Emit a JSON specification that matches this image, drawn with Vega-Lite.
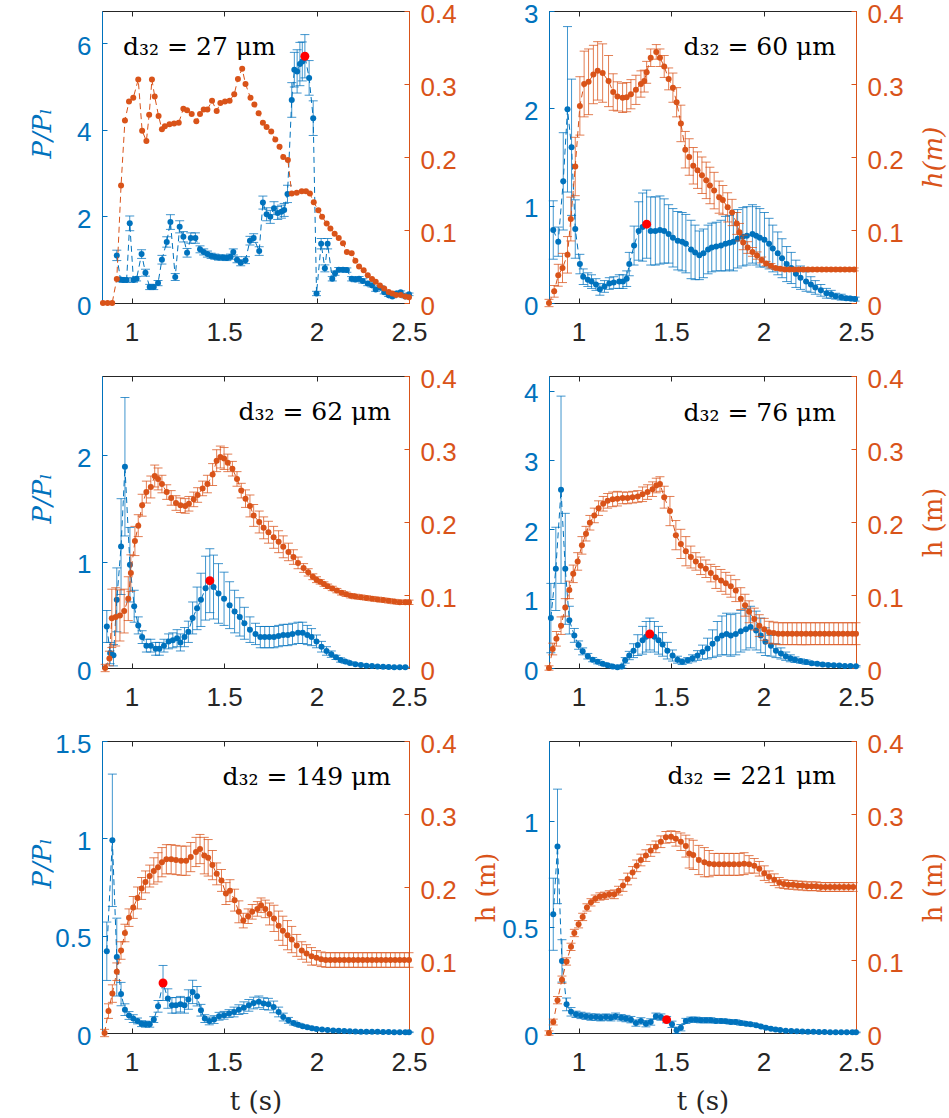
{
"$schema":"https://vega.github.io/schema/vega-lite/v6.json",
"background":"white",
"padding":{"left":28,"top":0,"right":0,"bottom":0},
"config":{
 "view":{"stroke":"#262626","strokeWidth":1},
 "axis":{"grid":false,"labelFont":"Liberation Sans","labelFontSize":26,"tickSize":-5,"tickWidth":1,"domainWidth":1,"labelPadding":16,"labelFlush":false,"labelOverlap":false,"titleFont":"DejaVu Serif","titleFontSize":26,"titleFontWeight":"normal"},
 "axisX":{"domainColor":"#262626","tickColor":"#262626","labelColor":"#262626","titleColor":"#262626","labelPadding":21},
 "axisLeft":{"domainColor":"#0072BD","tickColor":"#0072BD","labelColor":"#0072BD","titleColor":"#0072BD","labelOffset":3},
 "axisRight":{"domainColor":"#D95319","tickColor":"#D95319","labelColor":"#D95319","titleColor":"#D95319","labelOffset":3},
 "text":{"font":"DejaVu Serif","fontSize":25,"baseline":"middle","color":"#000000"}
},
"data":{"values":[
{"k":"1T","t":0.954,"v":5.91,"lab":"d₃₂ = 27 μm"},{"k":"2T","t":2.392,"v":2.63,"lab":"d₃₂ = 60 μm"},{"k":"3T","t":2.403,"v":2.4,"lab":"d₃₂ = 62 μm"},{"k":"4T","t":2.392,"v":3.68,"lab":"d₃₂ = 76 μm"},{"k":"5T","t":2.403,"v":1.315,"lab":"d₃₂ = 149 μm"},{"k":"6T","t":2.392,"v":1.21,"lab":"d₃₂ = 221 μm"},
{"k":"1h","t":0.845,"v":0},{"k":"1h","t":0.87,"v":0},{"k":"1h","t":0.895,"v":0},{"k":"1h","t":0.92,"v":0.033},{"k":"1h","t":0.943,"v":0.161},{"k":"1h","t":0.964,"v":0.25},{"k":"1h","t":0.986,"v":0.276},{"k":"1h","t":1.009,"v":0.281},{"k":"1h","t":1.036,"v":0.306},{"k":"1h","t":1.057,"v":0.236},{"k":"1h","t":1.08,"v":0.222},{"k":"1h","t":1.095,"v":0.258},{"k":"1h","t":1.11,"v":0.306},{"k":"1h","t":1.125,"v":0.283},{"k":"1h","t":1.146,"v":0.256},{"k":"1h","t":1.164,"v":0.238},{"k":"1h","t":1.18,"v":0.242},{"k":"1h","t":1.205,"v":0.245},{"k":"1h","t":1.23,"v":0.246},{"k":"1h","t":1.255,"v":0.247},{"k":"1h","t":1.28,"v":0.266},{"k":"1h","t":1.3,"v":0.264},{"k":"1h","t":1.325,"v":0.259},{"k":"1h","t":1.35,"v":0.249},{"k":"1h","t":1.37,"v":0.259},{"k":"1h","t":1.39,"v":0.265},{"k":"1h","t":1.41,"v":0.265},{"k":"1h","t":1.435,"v":0.277},{"k":"1h","t":1.46,"v":0.263},{"k":"1h","t":1.48,"v":0.274},{"k":"1h","t":1.505,"v":0.276},{"k":"1h","t":1.53,"v":0.277},{"k":"1h","t":1.555,"v":0.286},{"k":"1h","t":1.575,"v":0.307},{"k":"1h","t":1.598,"v":0.321},{"k":"1h","t":1.616,"v":0.3},{"k":"1h","t":1.643,"v":0.281},{"k":"1h","t":1.664,"v":0.272},{"k":"1h","t":1.687,"v":0.26},{"k":"1h","t":1.71,"v":0.247},{"k":"1h","t":1.73,"v":0.241},{"k":"1h","t":1.755,"v":0.235},{"k":"1h","t":1.777,"v":0.224},{"k":"1h","t":1.8,"v":0.214},{"k":"1h","t":1.82,"v":0.2},{"k":"1h","t":1.845,"v":0.196},{"k":"1h","t":1.866,"v":0.15},{"k":"1h","t":1.893,"v":0.151},{"k":"1h","t":1.92,"v":0.153},{"k":"1h","t":1.943,"v":0.153},{"k":"1h","t":1.964,"v":0.15},{"k":"1h","t":1.985,"v":0.138},{"k":"1h","t":2.01,"v":0.127},{"k":"1h","t":2.03,"v":0.118},{"k":"1h","t":2.055,"v":0.109},{"k":"1h","t":2.075,"v":0.102},{"k":"1h","t":2.098,"v":0.095},{"k":"1h","t":2.12,"v":0.089},{"k":"1h","t":2.143,"v":0.082},{"k":"1h","t":2.164,"v":0.07},{"k":"1h","t":2.19,"v":0.068},{"k":"1h","t":2.21,"v":0.058},{"k":"1h","t":2.23,"v":0.05},{"k":"1h","t":2.255,"v":0.045},{"k":"1h","t":2.277,"v":0.038},{"k":"1h","t":2.3,"v":0.033},{"k":"1h","t":2.32,"v":0.029},{"k":"1h","t":2.343,"v":0.024},{"k":"1h","t":2.366,"v":0.02},{"k":"1h","t":2.39,"v":0.015},{"k":"1h","t":2.41,"v":0.013},{"k":"1h","t":2.43,"v":0.011},{"k":"1h","t":2.455,"v":0.011},{"k":"1h","t":2.48,"v":0.009},{"k":"1h","t":2.5,"v":0.008},
{"k":"1P","t":0.92,"v":1.1,"e":0.12},{"k":"1P","t":0.94,"v":0.54,"e":0.05},{"k":"1P","t":0.955,"v":0.53,"e":0.05},{"k":"1P","t":0.973,"v":0.53,"e":0.05},{"k":"1P","t":0.99,"v":1.84,"e":0.17},{"k":"1P","t":1.01,"v":0.53,"e":0.05},{"k":"1P","t":1.027,"v":0.56,"e":0.05},{"k":"1P","t":1.054,"v":1.13,"e":0.1},{"k":"1P","t":1.075,"v":0.7,"e":0.08},{"k":"1P","t":1.098,"v":0.37,"e":0.06},{"k":"1P","t":1.12,"v":0.37,"e":0.06},{"k":"1P","t":1.143,"v":0.46,"e":0.06},{"k":"1P","t":1.164,"v":1.0,"e":0.1},{"k":"1P","t":1.19,"v":1.41,"e":0.12},{"k":"1P","t":1.21,"v":1.87,"e":0.17},{"k":"1P","t":1.236,"v":0.6,"e":0.08},{"k":"1P","t":1.26,"v":1.76,"e":0.14},{"k":"1P","t":1.28,"v":1.53,"e":0.12},{"k":"1P","t":1.3,"v":1.16,"e":0.1},{"k":"1P","t":1.32,"v":1.5,"e":0.12},{"k":"1P","t":1.345,"v":1.5,"e":0.12},{"k":"1P","t":1.37,"v":1.24,"e":0.08},{"k":"1P","t":1.39,"v":1.18,"e":0.07},{"k":"1P","t":1.41,"v":1.13,"e":0.07},{"k":"1P","t":1.43,"v":1.09,"e":0.06},{"k":"1P","t":1.45,"v":1.07,"e":0.06},{"k":"1P","t":1.47,"v":1.05,"e":0.06},{"k":"1P","t":1.495,"v":1.05,"e":0.06},{"k":"1P","t":1.515,"v":1.04,"e":0.06},{"k":"1P","t":1.535,"v":1.07,"e":0.06},{"k":"1P","t":1.55,"v":1.18,"e":0.07},{"k":"1P","t":1.57,"v":1.0,"e":0.07},{"k":"1P","t":1.59,"v":0.93,"e":0.07},{"k":"1P","t":1.616,"v":0.99,"e":0.08},{"k":"1P","t":1.64,"v":1.44,"e":0.1},{"k":"1P","t":1.66,"v":1.5,"e":0.1},{"k":"1P","t":1.69,"v":1.2,"e":0.1},{"k":"1P","t":1.71,"v":2.32,"e":0.15},{"k":"1P","t":1.73,"v":2.05,"e":0.15},{"k":"1P","t":1.75,"v":1.99,"e":0.15},{"k":"1P","t":1.77,"v":2.19,"e":0.15},{"k":"1P","t":1.79,"v":2.08,"e":0.15},{"k":"1P","t":1.81,"v":2.11,"e":0.15},{"k":"1P","t":1.825,"v":2.15,"e":0.15},{"k":"1P","t":1.843,"v":2.52,"e":0.2},{"k":"1P","t":1.866,"v":4.69,"e":0.4},{"k":"1P","t":1.88,"v":5.39,"e":0.4},{"k":"1P","t":1.895,"v":5.35,"e":0.5},{"k":"1P","t":1.91,"v":5.52,"e":0.5},{"k":"1P","t":1.923,"v":5.58,"e":0.45},{"k":"1P","t":1.937,"v":5.7,"e":0.5},{"k":"1P","t":1.96,"v":5.2,"e":0.4},{"k":"1P","t":1.982,"v":4.27,"e":0.4},{"k":"1P","t":2.0,"v":0.22,"e":0.05},{"k":"1P","t":2.025,"v":1.37,"e":0.12},{"k":"1P","t":2.045,"v":0.8,"e":0.08},{"k":"1P","t":2.06,"v":1.37,"e":0.12},{"k":"1P","t":2.085,"v":0.56,"e":0.05},{"k":"1P","t":2.1,"v":0.69,"e":0.05},{"k":"1P","t":2.12,"v":0.77,"e":0.05},{"k":"1P","t":2.143,"v":0.77,"e":0.05},{"k":"1P","t":2.164,"v":0.76,"e":0.05},{"k":"1P","t":2.19,"v":0.56,"e":0.05},{"k":"1P","t":2.21,"v":0.54,"e":0.05},{"k":"1P","t":2.23,"v":0.56,"e":0.05},{"k":"1P","t":2.25,"v":0.51,"e":0.05},{"k":"1P","t":2.277,"v":0.45,"e":0.05},{"k":"1P","t":2.3,"v":0.41,"e":0.04},{"k":"1P","t":2.32,"v":0.31,"e":0.04},{"k":"1P","t":2.343,"v":0.36,"e":0.04},{"k":"1P","t":2.366,"v":0.25,"e":0.04},{"k":"1P","t":2.39,"v":0.18,"e":0.03},{"k":"1P","t":2.41,"v":0.15,"e":0.03},{"k":"1P","t":2.43,"v":0.22,"e":0.03},{"k":"1P","t":2.455,"v":0.25,"e":0.03},{"k":"1P","t":2.48,"v":0.15,"e":0.03},{"k":"1P","t":2.5,"v":0.2,"e":0.03},
{"k":"1R","t":1.937,"v":5.7},
{"k":"2h","t":0.84,"v":0,"e":0.005},{"k":"2h","t":0.868,"v":0.016,"e":0.008},{"k":"2h","t":0.89,"v":0.038,"e":0.015},{"k":"2h","t":0.913,"v":0.048,"e":0.02},{"k":"2h","t":0.94,"v":0.066,"e":0.025},{"k":"2h","t":0.958,"v":0.115,"e":0.03},{"k":"2h","t":0.982,"v":0.187,"e":0.04},{"k":"2h","t":1.007,"v":0.27,"e":0.04},{"k":"2h","t":1.03,"v":0.3,"e":0.045},{"k":"2h","t":1.054,"v":0.303,"e":0.045},{"k":"2h","t":1.08,"v":0.313,"e":0.04},{"k":"2h","t":1.103,"v":0.318,"e":0.04},{"k":"2h","t":1.13,"v":0.315,"e":0.04},{"k":"2h","t":1.162,"v":0.304,"e":0.035},{"k":"2h","t":1.187,"v":0.289,"e":0.025},{"k":"2h","t":1.21,"v":0.283,"e":0.02},{"k":"2h","t":1.238,"v":0.281,"e":0.02},{"k":"2h","t":1.26,"v":0.282,"e":0.02},{"k":"2h","t":1.283,"v":0.286,"e":0.02},{"k":"2h","t":1.31,"v":0.292,"e":0.02},{"k":"2h","t":1.337,"v":0.3,"e":0.018},{"k":"2h","t":1.355,"v":0.304,"e":0.015},{"k":"2h","t":1.368,"v":0.316,"e":0.015},{"k":"2h","t":1.39,"v":0.336,"e":0.012},{"k":"2h","t":1.42,"v":0.344,"e":0.01},{"k":"2h","t":1.44,"v":0.336,"e":0.012},{"k":"2h","t":1.463,"v":0.324,"e":0.015},{"k":"2h","t":1.487,"v":0.307,"e":0.015},{"k":"2h","t":1.51,"v":0.295,"e":0.02},{"k":"2h","t":1.53,"v":0.275,"e":0.02},{"k":"2h","t":1.553,"v":0.246,"e":0.025},{"k":"2h","t":1.577,"v":0.21,"e":0.025},{"k":"2h","t":1.598,"v":0.2,"e":0.025},{"k":"2h","t":1.62,"v":0.188,"e":0.025},{"k":"2h","t":1.643,"v":0.182,"e":0.025},{"k":"2h","t":1.667,"v":0.175,"e":0.025},{"k":"2h","t":1.69,"v":0.168,"e":0.025},{"k":"2h","t":1.71,"v":0.161,"e":0.025},{"k":"2h","t":1.733,"v":0.154,"e":0.025},{"k":"2h","t":1.76,"v":0.145,"e":0.022},{"k":"2h","t":1.78,"v":0.141,"e":0.02},{"k":"2h","t":1.806,"v":0.131,"e":0.02},{"k":"2h","t":1.83,"v":0.124,"e":0.018},{"k":"2h","t":1.855,"v":0.109,"e":0.015},{"k":"2h","t":1.87,"v":0.097,"e":0.012},{"k":"2h","t":1.89,"v":0.083,"e":0.01},{"k":"2h","t":1.914,"v":0.076,"e":0.008},{"k":"2h","t":1.94,"v":0.07,"e":0.006},{"k":"2h","t":1.965,"v":0.065,"e":0.005},{"k":"2h","t":1.99,"v":0.059,"e":0.004},{"k":"2h","t":2.014,"v":0.054,"e":0.003},{"k":"2h","t":2.04,"v":0.051,"e":0.003},{"k":"2h","t":2.065,"v":0.048,"e":0.002},{"k":"2h","t":2.09,"v":0.047,"e":0.002},{"k":"2h","t":2.115,"v":0.046,"e":0.002},{"k":"2h","t":2.14,"v":0.046,"e":0.002},{"k":"2h","t":2.165,"v":0.046,"e":0.002},{"k":"2h","t":2.19,"v":0.046,"e":0.002},{"k":"2h","t":2.215,"v":0.046,"e":0.002},{"k":"2h","t":2.24,"v":0.046,"e":0.002},{"k":"2h","t":2.265,"v":0.046,"e":0.002},{"k":"2h","t":2.29,"v":0.046,"e":0.002},{"k":"2h","t":2.315,"v":0.046,"e":0.002},{"k":"2h","t":2.34,"v":0.046,"e":0.002},{"k":"2h","t":2.365,"v":0.046,"e":0.002},{"k":"2h","t":2.39,"v":0.046,"e":0.002},{"k":"2h","t":2.415,"v":0.046,"e":0.002},{"k":"2h","t":2.44,"v":0.046,"e":0.002},{"k":"2h","t":2.465,"v":0.046,"e":0.002},{"k":"2h","t":2.49,"v":0.046,"e":0.002},
{"k":"2P","t":0.863,"v":0.75,"e":0.3},{"k":"2P","t":0.89,"v":0.63,"e":0.15},{"k":"2P","t":0.917,"v":1.25,"e":0.5},{"k":"2P","t":0.94,"v":1.99,"e":0.85},{"k":"2P","t":0.962,"v":1.6,"e":0.7},{"k":"2P","t":0.982,"v":0.76,"e":0.3},{"k":"2P","t":1.007,"v":0.4,"e":0.1},{"k":"2P","t":1.025,"v":0.27,"e":0.08},{"k":"2P","t":1.05,"v":0.24,"e":0.07},{"k":"2P","t":1.07,"v":0.22,"e":0.07},{"k":"2P","t":1.094,"v":0.19,"e":0.06},{"k":"2P","t":1.115,"v":0.14,"e":0.06},{"k":"2P","t":1.14,"v":0.17,"e":0.06},{"k":"2P","t":1.166,"v":0.2,"e":0.06},{"k":"2P","t":1.19,"v":0.21,"e":0.06},{"k":"2P","t":1.22,"v":0.22,"e":0.07},{"k":"2P","t":1.24,"v":0.22,"e":0.07},{"k":"2P","t":1.26,"v":0.25,"e":0.08},{"k":"2P","t":1.274,"v":0.4,"e":0.12},{"k":"2P","t":1.3,"v":0.59,"e":0.2},{"k":"2P","t":1.325,"v":0.74,"e":0.3},{"k":"2P","t":1.346,"v":0.78,"e":0.35},{"k":"2P","t":1.368,"v":0.81,"e":0.35},{"k":"2P","t":1.39,"v":0.74,"e":0.35},{"k":"2P","t":1.415,"v":0.74,"e":0.35},{"k":"2P","t":1.44,"v":0.75,"e":0.35},{"k":"2P","t":1.463,"v":0.74,"e":0.33},{"k":"2P","t":1.487,"v":0.71,"e":0.3},{"k":"2P","t":1.51,"v":0.67,"e":0.3},{"k":"2P","t":1.536,"v":0.64,"e":0.3},{"k":"2P","t":1.56,"v":0.63,"e":0.3},{"k":"2P","t":1.58,"v":0.61,"e":0.3},{"k":"2P","t":1.608,"v":0.55,"e":0.3},{"k":"2P","t":1.63,"v":0.52,"e":0.28},{"k":"2P","t":1.653,"v":0.49,"e":0.25},{"k":"2P","t":1.675,"v":0.51,"e":0.25},{"k":"2P","t":1.7,"v":0.55,"e":0.25},{"k":"2P","t":1.72,"v":0.57,"e":0.25},{"k":"2P","t":1.744,"v":0.58,"e":0.25},{"k":"2P","t":1.77,"v":0.59,"e":0.26},{"k":"2P","t":1.794,"v":0.61,"e":0.28},{"k":"2P","t":1.816,"v":0.62,"e":0.28},{"k":"2P","t":1.837,"v":0.63,"e":0.3},{"k":"2P","t":1.86,"v":0.66,"e":0.3},{"k":"2P","t":1.888,"v":0.68,"e":0.3},{"k":"2P","t":1.91,"v":0.69,"e":0.3},{"k":"2P","t":1.94,"v":0.71,"e":0.3},{"k":"2P","t":1.96,"v":0.69,"e":0.3},{"k":"2P","t":1.98,"v":0.67,"e":0.3},{"k":"2P","t":2.005,"v":0.65,"e":0.28},{"k":"2P","t":2.03,"v":0.61,"e":0.26},{"k":"2P","t":2.05,"v":0.56,"e":0.24},{"k":"2P","t":2.077,"v":0.51,"e":0.22},{"k":"2P","t":2.1,"v":0.46,"e":0.2},{"k":"2P","t":2.125,"v":0.4,"e":0.18},{"k":"2P","t":2.15,"v":0.36,"e":0.16},{"k":"2P","t":2.175,"v":0.3,"e":0.14},{"k":"2P","t":2.2,"v":0.26,"e":0.12},{"k":"2P","t":2.23,"v":0.22,"e":0.1},{"k":"2P","t":2.256,"v":0.19,"e":0.08},{"k":"2P","t":2.28,"v":0.16,"e":0.07},{"k":"2P","t":2.31,"v":0.13,"e":0.06},{"k":"2P","t":2.34,"v":0.1,"e":0.05},{"k":"2P","t":2.366,"v":0.09,"e":0.04},{"k":"2P","t":2.39,"v":0.07,"e":0.03},{"k":"2P","t":2.42,"v":0.06,"e":0.03},{"k":"2P","t":2.446,"v":0.05,"e":0.02},{"k":"2P","t":2.47,"v":0.045,"e":0.02},{"k":"2P","t":2.495,"v":0.04,"e":0.02},
{"k":"2R","t":1.368,"v":0.81},
{"k":"3h","t":0.857,"v":0,"e":0.005},{"k":"3h","t":0.88,"v":0.013,"e":0.01},{"k":"3h","t":0.893,"v":0.068,"e":0.04},{"k":"3h","t":0.914,"v":0.07,"e":0.04},{"k":"3h","t":0.937,"v":0.072,"e":0.035},{"k":"3h","t":0.96,"v":0.078,"e":0.03},{"k":"3h","t":0.982,"v":0.095,"e":0.03},{"k":"3h","t":0.996,"v":0.13,"e":0.025},{"k":"3h","t":1.018,"v":0.174,"e":0.02},{"k":"3h","t":1.036,"v":0.195,"e":0.015},{"k":"3h","t":1.057,"v":0.223,"e":0.015},{"k":"3h","t":1.08,"v":0.241,"e":0.015},{"k":"3h","t":1.104,"v":0.248,"e":0.015},{"k":"3h","t":1.125,"v":0.263,"e":0.015},{"k":"3h","t":1.143,"v":0.259,"e":0.015},{"k":"3h","t":1.164,"v":0.252,"e":0.012},{"k":"3h","t":1.19,"v":0.241,"e":0.01},{"k":"3h","t":1.214,"v":0.233,"e":0.01},{"k":"3h","t":1.24,"v":0.226,"e":0.01},{"k":"3h","t":1.264,"v":0.223,"e":0.01},{"k":"3h","t":1.29,"v":0.222,"e":0.01},{"k":"3h","t":1.31,"v":0.225,"e":0.01},{"k":"3h","t":1.336,"v":0.231,"e":0.01},{"k":"3h","t":1.357,"v":0.237,"e":0.01},{"k":"3h","t":1.384,"v":0.246,"e":0.01},{"k":"3h","t":1.41,"v":0.252,"e":0.012},{"k":"3h","t":1.438,"v":0.265,"e":0.015},{"k":"3h","t":1.46,"v":0.284,"e":0.015},{"k":"3h","t":1.48,"v":0.289,"e":0.015},{"k":"3h","t":1.5,"v":0.287,"e":0.015},{"k":"3h","t":1.52,"v":0.281,"e":0.012},{"k":"3h","t":1.545,"v":0.273,"e":0.01},{"k":"3h","t":1.57,"v":0.259,"e":0.01},{"k":"3h","t":1.593,"v":0.243,"e":0.01},{"k":"3h","t":1.616,"v":0.232,"e":0.012},{"k":"3h","t":1.64,"v":0.222,"e":0.015},{"k":"3h","t":1.66,"v":0.209,"e":0.015},{"k":"3h","t":1.69,"v":0.2,"e":0.015},{"k":"3h","t":1.714,"v":0.192,"e":0.015},{"k":"3h","t":1.74,"v":0.186,"e":0.015},{"k":"3h","t":1.768,"v":0.179,"e":0.015},{"k":"3h","t":1.795,"v":0.173,"e":0.015},{"k":"3h","t":1.82,"v":0.166,"e":0.015},{"k":"3h","t":1.848,"v":0.159,"e":0.012},{"k":"3h","t":1.875,"v":0.152,"e":0.01},{"k":"3h","t":1.9,"v":0.144,"e":0.008},{"k":"3h","t":1.93,"v":0.137,"e":0.006},{"k":"3h","t":1.955,"v":0.131,"e":0.005},{"k":"3h","t":1.98,"v":0.125,"e":0.004},{"k":"3h","t":2.0,"v":0.121,"e":0.004},{"k":"3h","t":2.02,"v":0.118,"e":0.003},{"k":"3h","t":2.04,"v":0.115,"e":0.003},{"k":"3h","t":2.06,"v":0.112,"e":0.003},{"k":"3h","t":2.085,"v":0.109,"e":0.003},{"k":"3h","t":2.11,"v":0.106,"e":0.003},{"k":"3h","t":2.135,"v":0.103,"e":0.003},{"k":"3h","t":2.16,"v":0.101,"e":0.003},{"k":"3h","t":2.185,"v":0.099,"e":0.003},{"k":"3h","t":2.21,"v":0.098,"e":0.003},{"k":"3h","t":2.24,"v":0.097,"e":0.003},{"k":"3h","t":2.27,"v":0.096,"e":0.003},{"k":"3h","t":2.3,"v":0.095,"e":0.003},{"k":"3h","t":2.33,"v":0.094,"e":0.003},{"k":"3h","t":2.36,"v":0.093,"e":0.003},{"k":"3h","t":2.39,"v":0.092,"e":0.003},{"k":"3h","t":2.42,"v":0.091,"e":0.003},{"k":"3h","t":2.45,"v":0.09,"e":0.003},{"k":"3h","t":2.48,"v":0.09,"e":0.003},{"k":"3h","t":2.5,"v":0.09,"e":0.003},
{"k":"3P","t":0.866,"v":0.39,"e":0.15},{"k":"3P","t":0.884,"v":0.14,"e":0.1},{"k":"3P","t":0.902,"v":0.12,"e":0.1},{"k":"3P","t":0.92,"v":0.64,"e":0.3},{"k":"3P","t":0.943,"v":1.14,"e":0.45},{"k":"3P","t":0.964,"v":1.89,"e":0.65},{"k":"3P","t":0.991,"v":0.97,"e":0.35},{"k":"3P","t":1.014,"v":0.58,"e":0.15},{"k":"3P","t":1.036,"v":0.4,"e":0.08},{"k":"3P","t":1.057,"v":0.29,"e":0.06},{"k":"3P","t":1.08,"v":0.21,"e":0.06},{"k":"3P","t":1.104,"v":0.21,"e":0.06},{"k":"3P","t":1.13,"v":0.18,"e":0.06},{"k":"3P","t":1.15,"v":0.18,"e":0.06},{"k":"3P","t":1.175,"v":0.21,"e":0.06},{"k":"3P","t":1.2,"v":0.25,"e":0.07},{"k":"3P","t":1.223,"v":0.26,"e":0.07},{"k":"3P","t":1.246,"v":0.28,"e":0.08},{"k":"3P","t":1.264,"v":0.24,"e":0.08},{"k":"3P","t":1.286,"v":0.29,"e":0.09},{"k":"3P","t":1.307,"v":0.34,"e":0.1},{"k":"3P","t":1.33,"v":0.47,"e":0.15},{"k":"3P","t":1.354,"v":0.56,"e":0.2},{"k":"3P","t":1.375,"v":0.64,"e":0.25},{"k":"3P","t":1.4,"v":0.75,"e":0.3},{"k":"3P","t":1.423,"v":0.82,"e":0.3},{"k":"3P","t":1.443,"v":0.76,"e":0.3},{"k":"3P","t":1.47,"v":0.7,"e":0.28},{"k":"3P","t":1.5,"v":0.65,"e":0.25},{"k":"3P","t":1.53,"v":0.59,"e":0.22},{"k":"3P","t":1.557,"v":0.53,"e":0.2},{"k":"3P","t":1.585,"v":0.48,"e":0.18},{"k":"3P","t":1.61,"v":0.42,"e":0.15},{"k":"3P","t":1.64,"v":0.36,"e":0.12},{"k":"3P","t":1.67,"v":0.32,"e":0.1},{"k":"3P","t":1.696,"v":0.29,"e":0.1},{"k":"3P","t":1.72,"v":0.29,"e":0.1},{"k":"3P","t":1.745,"v":0.29,"e":0.1},{"k":"3P","t":1.77,"v":0.29,"e":0.1},{"k":"3P","t":1.795,"v":0.3,"e":0.1},{"k":"3P","t":1.82,"v":0.31,"e":0.1},{"k":"3P","t":1.845,"v":0.31,"e":0.1},{"k":"3P","t":1.87,"v":0.32,"e":0.1},{"k":"3P","t":1.9,"v":0.33,"e":0.1},{"k":"3P","t":1.925,"v":0.33,"e":0.1},{"k":"3P","t":1.95,"v":0.31,"e":0.09},{"k":"3P","t":1.973,"v":0.29,"e":0.08},{"k":"3P","t":2.0,"v":0.25,"e":0.06},{"k":"3P","t":2.027,"v":0.2,"e":0.05},{"k":"3P","t":2.054,"v":0.16,"e":0.04},{"k":"3P","t":2.08,"v":0.13,"e":0.03},{"k":"3P","t":2.105,"v":0.1,"e":0.02},{"k":"3P","t":2.13,"v":0.075,"e":0.02},{"k":"3P","t":2.155,"v":0.06,"e":0.015},{"k":"3P","t":2.18,"v":0.048,"e":0.01},{"k":"3P","t":2.21,"v":0.035,"e":0.01},{"k":"3P","t":2.24,"v":0.028,"e":0.008},{"k":"3P","t":2.27,"v":0.022,"e":0.005},{"k":"3P","t":2.3,"v":0.018,"e":0.005},{"k":"3P","t":2.33,"v":0.015,"e":0.004},{"k":"3P","t":2.36,"v":0.012,"e":0.004},{"k":"3P","t":2.39,"v":0.01,"e":0.003},{"k":"3P","t":2.42,"v":0.008,"e":0.003},{"k":"3P","t":2.45,"v":0.007,"e":0.003},{"k":"3P","t":2.48,"v":0.006,"e":0.003},
{"k":"3R","t":1.423,"v":0.82},
{"k":"4h","t":0.84,"v":0,"e":0.003},{"k":"4h","t":0.86,"v":0.026,"e":0.008},{"k":"4h","t":0.88,"v":0.04,"e":0.01},{"k":"4h","t":0.905,"v":0.058,"e":0.012},{"k":"4h","t":0.928,"v":0.083,"e":0.012},{"k":"4h","t":0.95,"v":0.107,"e":0.012},{"k":"4h","t":0.971,"v":0.129,"e":0.012},{"k":"4h","t":0.995,"v":0.146,"e":0.012},{"k":"4h","t":1.018,"v":0.168,"e":0.012},{"k":"4h","t":1.04,"v":0.184,"e":0.01},{"k":"4h","t":1.061,"v":0.199,"e":0.01},{"k":"4h","t":1.085,"v":0.209,"e":0.01},{"k":"4h","t":1.108,"v":0.219,"e":0.01},{"k":"4h","t":1.133,"v":0.225,"e":0.01},{"k":"4h","t":1.157,"v":0.229,"e":0.01},{"k":"4h","t":1.184,"v":0.231,"e":0.01},{"k":"4h","t":1.21,"v":0.232,"e":0.01},{"k":"4h","t":1.238,"v":0.233,"e":0.008},{"k":"4h","t":1.265,"v":0.233,"e":0.008},{"k":"4h","t":1.292,"v":0.234,"e":0.008},{"k":"4h","t":1.32,"v":0.235,"e":0.008},{"k":"4h","t":1.346,"v":0.238,"e":0.01},{"k":"4h","t":1.373,"v":0.241,"e":0.01},{"k":"4h","t":1.4,"v":0.245,"e":0.01},{"k":"4h","t":1.42,"v":0.25,"e":0.01},{"k":"4h","t":1.44,"v":0.252,"e":0.01},{"k":"4h","t":1.463,"v":0.234,"e":0.015},{"k":"4h","t":1.494,"v":0.215,"e":0.02},{"k":"4h","t":1.526,"v":0.182,"e":0.02},{"k":"4h","t":1.553,"v":0.17,"e":0.02},{"k":"4h","t":1.58,"v":0.16,"e":0.02},{"k":"4h","t":1.607,"v":0.152,"e":0.015},{"k":"4h","t":1.634,"v":0.146,"e":0.012},{"k":"4h","t":1.66,"v":0.14,"e":0.012},{"k":"4h","t":1.688,"v":0.136,"e":0.012},{"k":"4h","t":1.715,"v":0.13,"e":0.012},{"k":"4h","t":1.742,"v":0.124,"e":0.015},{"k":"4h","t":1.77,"v":0.12,"e":0.015},{"k":"4h","t":1.796,"v":0.116,"e":0.015},{"k":"4h","t":1.823,"v":0.112,"e":0.015},{"k":"4h","t":1.85,"v":0.106,"e":0.015},{"k":"4h","t":1.877,"v":0.095,"e":0.015},{"k":"4h","t":1.9,"v":0.086,"e":0.015},{"k":"4h","t":1.922,"v":0.077,"e":0.015},{"k":"4h","t":1.95,"v":0.067,"e":0.015},{"k":"4h","t":1.977,"v":0.058,"e":0.015},{"k":"4h","t":2.004,"v":0.053,"e":0.015},{"k":"4h","t":2.03,"v":0.049,"e":0.015},{"k":"4h","t":2.055,"v":0.048,"e":0.015},{"k":"4h","t":2.08,"v":0.047,"e":0.015},{"k":"4h","t":2.105,"v":0.047,"e":0.015},{"k":"4h","t":2.13,"v":0.047,"e":0.015},{"k":"4h","t":2.155,"v":0.047,"e":0.015},{"k":"4h","t":2.18,"v":0.047,"e":0.015},{"k":"4h","t":2.205,"v":0.047,"e":0.015},{"k":"4h","t":2.23,"v":0.047,"e":0.015},{"k":"4h","t":2.255,"v":0.047,"e":0.015},{"k":"4h","t":2.28,"v":0.047,"e":0.015},{"k":"4h","t":2.305,"v":0.047,"e":0.015},{"k":"4h","t":2.33,"v":0.047,"e":0.015},{"k":"4h","t":2.355,"v":0.047,"e":0.015},{"k":"4h","t":2.38,"v":0.047,"e":0.015},{"k":"4h","t":2.405,"v":0.047,"e":0.015},{"k":"4h","t":2.43,"v":0.047,"e":0.015},{"k":"4h","t":2.455,"v":0.047,"e":0.015},{"k":"4h","t":2.48,"v":0.047,"e":0.015},{"k":"4h","t":2.5,"v":0.047,"e":0.015},
{"k":"4P","t":0.85,"v":0.72,"e":0.5},{"k":"4P","t":0.877,"v":1.43,"e":0.6},{"k":"4P","t":0.905,"v":2.57,"e":1.35},{"k":"4P","t":0.928,"v":1.43,"e":0.8},{"k":"4P","t":0.95,"v":0.69,"e":0.2},{"k":"4P","t":0.977,"v":0.47,"e":0.1},{"k":"4P","t":1.0,"v":0.33,"e":0.06},{"k":"4P","t":1.022,"v":0.24,"e":0.05},{"k":"4P","t":1.05,"v":0.17,"e":0.04},{"k":"4P","t":1.076,"v":0.12,"e":0.03},{"k":"4P","t":1.103,"v":0.09,"e":0.03},{"k":"4P","t":1.13,"v":0.06,"e":0.02},{"k":"4P","t":1.157,"v":0.04,"e":0.02},{"k":"4P","t":1.184,"v":0.02,"e":0.02},{"k":"4P","t":1.21,"v":0.01,"e":0.02},{"k":"4P","t":1.234,"v":0.02,"e":0.02},{"k":"4P","t":1.252,"v":0.11,"e":0.04},{"k":"4P","t":1.274,"v":0.18,"e":0.06},{"k":"4P","t":1.297,"v":0.25,"e":0.1},{"k":"4P","t":1.32,"v":0.33,"e":0.15},{"k":"4P","t":1.346,"v":0.4,"e":0.2},{"k":"4P","t":1.365,"v":0.45,"e":0.22},{"k":"4P","t":1.385,"v":0.49,"e":0.23},{"k":"4P","t":1.41,"v":0.45,"e":0.22},{"k":"4P","t":1.432,"v":0.4,"e":0.2},{"k":"4P","t":1.454,"v":0.34,"e":0.17},{"k":"4P","t":1.48,"v":0.25,"e":0.12},{"k":"4P","t":1.508,"v":0.18,"e":0.08},{"k":"4P","t":1.535,"v":0.12,"e":0.05},{"k":"4P","t":1.56,"v":0.09,"e":0.04},{"k":"4P","t":1.59,"v":0.11,"e":0.04},{"k":"4P","t":1.616,"v":0.14,"e":0.05},{"k":"4P","t":1.643,"v":0.18,"e":0.07},{"k":"4P","t":1.67,"v":0.23,"e":0.1},{"k":"4P","t":1.697,"v":0.28,"e":0.15},{"k":"4P","t":1.724,"v":0.35,"e":0.2},{"k":"4P","t":1.75,"v":0.42,"e":0.25},{"k":"4P","t":1.775,"v":0.47,"e":0.28},{"k":"4P","t":1.8,"v":0.49,"e":0.3},{"k":"4P","t":1.823,"v":0.47,"e":0.3},{"k":"4P","t":1.85,"v":0.49,"e":0.3},{"k":"4P","t":1.877,"v":0.53,"e":0.3},{"k":"4P","t":1.905,"v":0.56,"e":0.3},{"k":"4P","t":1.93,"v":0.59,"e":0.3},{"k":"4P","t":1.96,"v":0.54,"e":0.28},{"k":"4P","t":1.985,"v":0.47,"e":0.25},{"k":"4P","t":2.01,"v":0.38,"e":0.2},{"k":"4P","t":2.04,"v":0.32,"e":0.15},{"k":"4P","t":2.067,"v":0.25,"e":0.1},{"k":"4P","t":2.094,"v":0.21,"e":0.08},{"k":"4P","t":2.12,"v":0.17,"e":0.06},{"k":"4P","t":2.145,"v":0.14,"e":0.05},{"k":"4P","t":2.17,"v":0.12,"e":0.04},{"k":"4P","t":2.2,"v":0.1,"e":0.03},{"k":"4P","t":2.23,"v":0.085,"e":0.03},{"k":"4P","t":2.26,"v":0.07,"e":0.02},{"k":"4P","t":2.29,"v":0.06,"e":0.02},{"k":"4P","t":2.32,"v":0.05,"e":0.02},{"k":"4P","t":2.35,"v":0.045,"e":0.015},{"k":"4P","t":2.38,"v":0.04,"e":0.015},{"k":"4P","t":2.41,"v":0.035,"e":0.01},{"k":"4P","t":2.44,"v":0.03,"e":0.01},{"k":"4P","t":2.47,"v":0.028,"e":0.01},{"k":"4P","t":2.5,"v":0.025,"e":0.01},
{"k":"4R","t":1.385,"v":0.49},
{"k":"5h","t":0.854,"v":0,"e":0.005},{"k":"5h","t":0.875,"v":0.03,"e":0.01},{"k":"5h","t":0.896,"v":0.054,"e":0.012},{"k":"5h","t":0.92,"v":0.084,"e":0.012},{"k":"5h","t":0.943,"v":0.113,"e":0.012},{"k":"5h","t":0.964,"v":0.137,"e":0.012},{"k":"5h","t":0.986,"v":0.158,"e":0.012},{"k":"5h","t":1.009,"v":0.172,"e":0.015},{"k":"5h","t":1.032,"v":0.185,"e":0.015},{"k":"5h","t":1.054,"v":0.198,"e":0.015},{"k":"5h","t":1.075,"v":0.207,"e":0.015},{"k":"5h","t":1.098,"v":0.215,"e":0.015},{"k":"5h","t":1.12,"v":0.222,"e":0.018},{"k":"5h","t":1.143,"v":0.227,"e":0.02},{"k":"5h","t":1.164,"v":0.234,"e":0.02},{"k":"5h","t":1.188,"v":0.238,"e":0.02},{"k":"5h","t":1.214,"v":0.238,"e":0.02},{"k":"5h","t":1.24,"v":0.237,"e":0.02},{"k":"5h","t":1.268,"v":0.236,"e":0.02},{"k":"5h","t":1.295,"v":0.236,"e":0.02},{"k":"5h","t":1.32,"v":0.241,"e":0.02},{"k":"5h","t":1.348,"v":0.248,"e":0.02},{"k":"5h","t":1.37,"v":0.252,"e":0.02},{"k":"5h","t":1.393,"v":0.243,"e":0.025},{"k":"5h","t":1.414,"v":0.24,"e":0.025},{"k":"5h","t":1.437,"v":0.23,"e":0.02},{"k":"5h","t":1.46,"v":0.218,"e":0.015},{"k":"5h","t":1.486,"v":0.209,"e":0.015},{"k":"5h","t":1.51,"v":0.191,"e":0.015},{"k":"5h","t":1.532,"v":0.195,"e":0.015},{"k":"5h","t":1.557,"v":0.182,"e":0.015},{"k":"5h","t":1.58,"v":0.166,"e":0.015},{"k":"5h","t":1.604,"v":0.154,"e":0.01},{"k":"5h","t":1.63,"v":0.16,"e":0.01},{"k":"5h","t":1.652,"v":0.166,"e":0.01},{"k":"5h","t":1.68,"v":0.17,"e":0.01},{"k":"5h","t":1.7,"v":0.175,"e":0.01},{"k":"5h","t":1.723,"v":0.17,"e":0.012},{"k":"5h","t":1.746,"v":0.163,"e":0.015},{"k":"5h","t":1.77,"v":0.157,"e":0.018},{"k":"5h","t":1.795,"v":0.147,"e":0.02},{"k":"5h","t":1.818,"v":0.14,"e":0.02},{"k":"5h","t":1.843,"v":0.134,"e":0.02},{"k":"5h","t":1.866,"v":0.128,"e":0.018},{"k":"5h","t":1.893,"v":0.12,"e":0.015},{"k":"5h","t":1.92,"v":0.113,"e":0.012},{"k":"5h","t":1.946,"v":0.109,"e":0.012},{"k":"5h","t":1.973,"v":0.105,"e":0.012},{"k":"5h","t":2.0,"v":0.103,"e":0.01},{"k":"5h","t":2.025,"v":0.101,"e":0.01},{"k":"5h","t":2.05,"v":0.1,"e":0.01},{"k":"5h","t":2.075,"v":0.1,"e":0.01},{"k":"5h","t":2.1,"v":0.1,"e":0.01},{"k":"5h","t":2.125,"v":0.1,"e":0.01},{"k":"5h","t":2.15,"v":0.1,"e":0.01},{"k":"5h","t":2.175,"v":0.1,"e":0.01},{"k":"5h","t":2.2,"v":0.1,"e":0.01},{"k":"5h","t":2.225,"v":0.1,"e":0.01},{"k":"5h","t":2.25,"v":0.1,"e":0.01},{"k":"5h","t":2.275,"v":0.1,"e":0.01},{"k":"5h","t":2.3,"v":0.1,"e":0.01},{"k":"5h","t":2.325,"v":0.1,"e":0.01},{"k":"5h","t":2.35,"v":0.1,"e":0.01},{"k":"5h","t":2.375,"v":0.1,"e":0.01},{"k":"5h","t":2.4,"v":0.1,"e":0.01},{"k":"5h","t":2.425,"v":0.1,"e":0.01},{"k":"5h","t":2.45,"v":0.1,"e":0.01},{"k":"5h","t":2.475,"v":0.1,"e":0.01},{"k":"5h","t":2.5,"v":0.1,"e":0.01},
{"k":"5P","t":0.866,"v":0.42,"e":0.15},{"k":"5P","t":0.896,"v":0.99,"e":0.34},{"k":"5P","t":0.92,"v":0.39,"e":0.2},{"k":"5P","t":0.943,"v":0.2,"e":0.06},{"k":"5P","t":0.964,"v":0.12,"e":0.03},{"k":"5P","t":0.986,"v":0.09,"e":0.02},{"k":"5P","t":1.009,"v":0.074,"e":0.02},{"k":"5P","t":1.032,"v":0.062,"e":0.015},{"k":"5P","t":1.054,"v":0.048,"e":0.015},{"k":"5P","t":1.075,"v":0.045,"e":0.015},{"k":"5P","t":1.098,"v":0.045,"e":0.015},{"k":"5P","t":1.12,"v":0.069,"e":0.015},{"k":"5P","t":1.143,"v":0.137,"e":0.03},{"k":"5P","t":1.17,"v":0.257,"e":0.09},{"k":"5P","t":1.196,"v":0.177,"e":0.05},{"k":"5P","t":1.218,"v":0.142,"e":0.04},{"k":"5P","t":1.24,"v":0.142,"e":0.04},{"k":"5P","t":1.264,"v":0.148,"e":0.04},{"k":"5P","t":1.286,"v":0.142,"e":0.04},{"k":"5P","t":1.307,"v":0.172,"e":0.05},{"k":"5P","t":1.33,"v":0.211,"e":0.06},{"k":"5P","t":1.354,"v":0.189,"e":0.05},{"k":"5P","t":1.375,"v":0.117,"e":0.03},{"k":"5P","t":1.396,"v":0.074,"e":0.02},{"k":"5P","t":1.42,"v":0.062,"e":0.02},{"k":"5P","t":1.446,"v":0.069,"e":0.02},{"k":"5P","t":1.473,"v":0.086,"e":0.02},{"k":"5P","t":1.5,"v":0.091,"e":0.02},{"k":"5P","t":1.527,"v":0.1,"e":0.02},{"k":"5P","t":1.554,"v":0.108,"e":0.025},{"k":"5P","t":1.58,"v":0.12,"e":0.025},{"k":"5P","t":1.607,"v":0.13,"e":0.03},{"k":"5P","t":1.634,"v":0.142,"e":0.03},{"k":"5P","t":1.66,"v":0.154,"e":0.03},{"k":"5P","t":1.688,"v":0.16,"e":0.03},{"k":"5P","t":1.714,"v":0.151,"e":0.03},{"k":"5P","t":1.74,"v":0.148,"e":0.03},{"k":"5P","t":1.768,"v":0.134,"e":0.03},{"k":"5P","t":1.795,"v":0.108,"e":0.025},{"k":"5P","t":1.82,"v":0.082,"e":0.02},{"k":"5P","t":1.848,"v":0.065,"e":0.015},{"k":"5P","t":1.875,"v":0.051,"e":0.01},{"k":"5P","t":1.9,"v":0.042,"e":0.008},{"k":"5P","t":1.925,"v":0.035,"e":0.006},{"k":"5P","t":1.95,"v":0.03,"e":0.005},{"k":"5P","t":1.975,"v":0.025,"e":0.004},{"k":"5P","t":2.0,"v":0.021,"e":0.004},{"k":"5P","t":2.03,"v":0.018,"e":0.003},{"k":"5P","t":2.06,"v":0.015,"e":0.003},{"k":"5P","t":2.09,"v":0.013,"e":0.003},{"k":"5P","t":2.12,"v":0.011,"e":0.003},{"k":"5P","t":2.15,"v":0.01,"e":0.002},{"k":"5P","t":2.18,"v":0.009,"e":0.002},{"k":"5P","t":2.21,"v":0.008,"e":0.002},{"k":"5P","t":2.24,"v":0.007,"e":0.002},{"k":"5P","t":2.27,"v":0.007,"e":0.002},{"k":"5P","t":2.3,"v":0.006,"e":0.002},{"k":"5P","t":2.33,"v":0.006,"e":0.002},{"k":"5P","t":2.36,"v":0.005,"e":0.002},{"k":"5P","t":2.39,"v":0.005,"e":0.002},{"k":"5P","t":2.42,"v":0.004,"e":0.002},{"k":"5P","t":2.45,"v":0.004,"e":0.002},{"k":"5P","t":2.48,"v":0.004,"e":0.002},{"k":"5P","t":2.5,"v":0.004,"e":0.002},
{"k":"5R","t":1.17,"v":0.257},
{"k":"6h","t":0.84,"v":0,"e":0.003},{"k":"6h","t":0.863,"v":0.015,"e":0.004},{"k":"6h","t":0.886,"v":0.045,"e":0.005},{"k":"6h","t":0.91,"v":0.073,"e":0.005},{"k":"6h","t":0.935,"v":0.098,"e":0.005},{"k":"6h","t":0.959,"v":0.118,"e":0.005},{"k":"6h","t":0.977,"v":0.137,"e":0.005},{"k":"6h","t":1.0,"v":0.149,"e":0.005},{"k":"6h","t":1.022,"v":0.159,"e":0.005},{"k":"6h","t":1.045,"v":0.172,"e":0.005},{"k":"6h","t":1.067,"v":0.179,"e":0.005},{"k":"6h","t":1.09,"v":0.184,"e":0.005},{"k":"6h","t":1.115,"v":0.187,"e":0.005},{"k":"6h","t":1.14,"v":0.188,"e":0.005},{"k":"6h","t":1.166,"v":0.19,"e":0.005},{"k":"6h","t":1.193,"v":0.19,"e":0.006},{"k":"6h","t":1.216,"v":0.195,"e":0.006},{"k":"6h","t":1.24,"v":0.202,"e":0.008},{"k":"6h","t":1.265,"v":0.211,"e":0.008},{"k":"6h","t":1.292,"v":0.22,"e":0.008},{"k":"6h","t":1.314,"v":0.229,"e":0.008},{"k":"6h","t":1.337,"v":0.237,"e":0.008},{"k":"6h","t":1.364,"v":0.243,"e":0.008},{"k":"6h","t":1.39,"v":0.25,"e":0.008},{"k":"6h","t":1.418,"v":0.255,"e":0.008},{"k":"6h","t":1.445,"v":0.262,"e":0.008},{"k":"6h","t":1.472,"v":0.268,"e":0.008},{"k":"6h","t":1.5,"v":0.269,"e":0.008},{"k":"6h","t":1.526,"v":0.266,"e":0.01},{"k":"6h","t":1.553,"v":0.262,"e":0.012},{"k":"6h","t":1.58,"v":0.256,"e":0.015},{"k":"6h","t":1.598,"v":0.246,"e":0.02},{"k":"6h","t":1.62,"v":0.244,"e":0.02},{"k":"6h","t":1.65,"v":0.237,"e":0.02},{"k":"6h","t":1.68,"v":0.234,"e":0.02},{"k":"6h","t":1.706,"v":0.232,"e":0.018},{"k":"6h","t":1.733,"v":0.231,"e":0.015},{"k":"6h","t":1.76,"v":0.231,"e":0.015},{"k":"6h","t":1.787,"v":0.231,"e":0.015},{"k":"6h","t":1.814,"v":0.231,"e":0.015},{"k":"6h","t":1.84,"v":0.231,"e":0.015},{"k":"6h","t":1.868,"v":0.231,"e":0.015},{"k":"6h","t":1.895,"v":0.232,"e":0.015},{"k":"6h","t":1.922,"v":0.231,"e":0.012},{"k":"6h","t":1.95,"v":0.229,"e":0.01},{"k":"6h","t":1.977,"v":0.225,"e":0.01},{"k":"6h","t":2.004,"v":0.219,"e":0.01},{"k":"6h","t":2.03,"v":0.214,"e":0.008},{"k":"6h","t":2.058,"v":0.21,"e":0.008},{"k":"6h","t":2.085,"v":0.206,"e":0.007},{"k":"6h","t":2.11,"v":0.204,"e":0.006},{"k":"6h","t":2.135,"v":0.203,"e":0.006},{"k":"6h","t":2.16,"v":0.203,"e":0.006},{"k":"6h","t":2.185,"v":0.202,"e":0.006},{"k":"6h","t":2.21,"v":0.202,"e":0.006},{"k":"6h","t":2.235,"v":0.201,"e":0.006},{"k":"6h","t":2.26,"v":0.201,"e":0.006},{"k":"6h","t":2.285,"v":0.201,"e":0.006},{"k":"6h","t":2.31,"v":0.2,"e":0.006},{"k":"6h","t":2.335,"v":0.2,"e":0.006},{"k":"6h","t":2.36,"v":0.2,"e":0.006},{"k":"6h","t":2.385,"v":0.2,"e":0.006},{"k":"6h","t":2.41,"v":0.2,"e":0.006},{"k":"6h","t":2.435,"v":0.2,"e":0.006},{"k":"6h","t":2.46,"v":0.2,"e":0.006},{"k":"6h","t":2.485,"v":0.2,"e":0.006},
{"k":"6P","t":0.863,"v":0.56,"e":0.17},{"k":"6P","t":0.886,"v":0.88,"e":0.27},{"k":"6P","t":0.91,"v":0.34,"e":0.1},{"k":"6P","t":0.935,"v":0.135,"e":0.03},{"k":"6P","t":0.959,"v":0.1,"e":0.02},{"k":"6P","t":0.986,"v":0.088,"e":0.015},{"k":"6P","t":1.013,"v":0.083,"e":0.015},{"k":"6P","t":1.04,"v":0.079,"e":0.015},{"k":"6P","t":1.067,"v":0.075,"e":0.015},{"k":"6P","t":1.094,"v":0.075,"e":0.015},{"k":"6P","t":1.12,"v":0.072,"e":0.015},{"k":"6P","t":1.148,"v":0.075,"e":0.015},{"k":"6P","t":1.175,"v":0.072,"e":0.015},{"k":"6P","t":1.2,"v":0.079,"e":0.015},{"k":"6P","t":1.23,"v":0.072,"e":0.015},{"k":"6P","t":1.256,"v":0.068,"e":0.015},{"k":"6P","t":1.283,"v":0.063,"e":0.015},{"k":"6P","t":1.31,"v":0.047,"e":0.015},{"k":"6P","t":1.337,"v":0.057,"e":0.015},{"k":"6P","t":1.364,"v":0.044,"e":0.015},{"k":"6P","t":1.39,"v":0.052,"e":0.015},{"k":"6P","t":1.418,"v":0.079,"e":0.015},{"k":"6P","t":1.445,"v":0.075,"e":0.015},{"k":"6P","t":1.476,"v":0.063,"e":0.015},{"k":"6P","t":1.505,"v":0.041,"e":0.015},{"k":"6P","t":1.53,"v":0.013,"e":0.015},{"k":"6P","t":1.553,"v":0.025,"e":0.015},{"k":"6P","t":1.58,"v":0.057,"e":0.012},{"k":"6P","t":1.607,"v":0.063,"e":0.012},{"k":"6P","t":1.634,"v":0.063,"e":0.012},{"k":"6P","t":1.66,"v":0.06,"e":0.012},{"k":"6P","t":1.688,"v":0.06,"e":0.012},{"k":"6P","t":1.715,"v":0.06,"e":0.012},{"k":"6P","t":1.742,"v":0.057,"e":0.01},{"k":"6P","t":1.77,"v":0.057,"e":0.01},{"k":"6P","t":1.796,"v":0.055,"e":0.01},{"k":"6P","t":1.823,"v":0.052,"e":0.01},{"k":"6P","t":1.85,"v":0.052,"e":0.01},{"k":"6P","t":1.877,"v":0.047,"e":0.01},{"k":"6P","t":1.905,"v":0.044,"e":0.008},{"k":"6P","t":1.93,"v":0.041,"e":0.008},{"k":"6P","t":1.96,"v":0.036,"e":0.006},{"k":"6P","t":1.986,"v":0.031,"e":0.005},{"k":"6P","t":2.013,"v":0.025,"e":0.005},{"k":"6P","t":2.04,"v":0.02,"e":0.004},{"k":"6P","t":2.065,"v":0.017,"e":0.003},{"k":"6P","t":2.09,"v":0.014,"e":0.003},{"k":"6P","t":2.12,"v":0.011,"e":0.003},{"k":"6P","t":2.15,"v":0.009,"e":0.002},{"k":"6P","t":2.18,"v":0.008,"e":0.002},{"k":"6P","t":2.21,"v":0.007,"e":0.002},{"k":"6P","t":2.24,"v":0.006,"e":0.002},{"k":"6P","t":2.27,"v":0.006,"e":0.002},{"k":"6P","t":2.3,"v":0.005,"e":0.002},{"k":"6P","t":2.33,"v":0.005,"e":0.002},{"k":"6P","t":2.36,"v":0.004,"e":0.002},{"k":"6P","t":2.39,"v":0.004,"e":0.002},{"k":"6P","t":2.42,"v":0.003,"e":0.002},{"k":"6P","t":2.45,"v":0.003,"e":0.002},{"k":"6P","t":2.48,"v":0.003,"e":0.002},{"k":"6P","t":2.5,"v":0.003,"e":0.002},
{"k":"6R","t":1.476,"v":0.063}
]},
"columns":2,
"spacing":{"row":73,"column":140},
"bounds":"flush",
"concat":[
{"width":307,"height":292,"resolve":{"scale":{"y":"independent"},"axis":{"x":"independent","y":"independent"}},
 "layer":[
  {"transform":[{"filter":"datum.k=='1P'"}],
   "encoding":{"x":{"field":"t","type":"quantitative","scale":{"domain":[0.84,2.5],"nice":false,"zero":false},"axis":{"orient":"bottom","values":[1,1.5,2,2.5],"format":"~g","title":null}},
               "y":{"field":"v","type":"quantitative","scale":{"domain":[0,6.745],"nice":false},"axis":{"orient":"left","values":[0,2,4,6],"format":"~g","title":"P/Pₗ","titleX":-60,"titleY":122,"titleAngle":270,"titleBaseline":"middle","titleAlign":"center","titleFontStyle":"italic"}}},
   "layer":[
    {"mark":{"type":"errorbar","color":"#0072BD","opacity":0.75,"thickness":1,"ticks":{"size":9}},"encoding":{"yError":{"field":"e"}}},
    {"mark":{"type":"line","color":"#0072BD","strokeWidth":1,"strokeDash":[6,4]}},
    {"mark":{"type":"circle","color":"#0072BD","size":36,"opacity":1}}
   ]},
  {"transform":[{"filter":"datum.k=='1h'"}],
   "encoding":{"x":{"field":"t","type":"quantitative","scale":{"domain":[0.84,2.5],"nice":false,"zero":false},"axis":{"orient":"top","values":[1,1.5,2,2.5],"labels":false,"domain":false,"title":null}},
               "y":{"field":"v","type":"quantitative","scale":{"domain":[0,0.4],"nice":false},"axis":{"orient":"right","values":[0,0.1,0.2,0.3,0.4],"format":"~g","title":null}}},
   "layer":[
    {"mark":{"type":"line","color":"#D95319","strokeWidth":1,"strokeDash":[6,4]}},
    {"mark":{"type":"circle","color":"#D95319","size":36,"opacity":1}}
   ]},
  {"encoding":{"x":{"field":"t","type":"quantitative","scale":{"domain":[0.84,2.5],"nice":false,"zero":false},"axis":null},
               "y":{"field":"v","type":"quantitative","scale":{"domain":[0,6.745],"nice":false},"axis":null}},
   "layer":[
    {"data":{"values":[{}]},"mark":{"type":"rule","color":"#1a1a1a","strokeWidth":2.5},"encoding":{"x":{"datum":0.84},"x2":{"datum":2.5},"y":{"datum":1}}},
    {"transform":[{"filter":"datum.k=='1R'"}],"mark":{"type":"circle","color":"#ff0000","size":80,"opacity":1}},
    {"transform":[{"filter":"datum.k=='1T'"}],"mark":{"type":"text","align":"left"},"encoding":{"text":{"field":"lab","type":"nominal"}}}
   ]}
 ]},
{"width":307,"height":292,"resolve":{"scale":{"y":"independent"},"axis":{"x":"independent","y":"independent"}},
 "layer":[
  {"transform":[{"filter":"datum.k=='2P'"}],
   "encoding":{"x":{"field":"t","type":"quantitative","scale":{"domain":[0.84,2.5],"nice":false,"zero":false},"axis":{"orient":"bottom","values":[1,1.5,2,2.5],"format":"~g","title":null}},
               "y":{"field":"v","type":"quantitative","scale":{"domain":[0,3],"nice":false},"axis":{"orient":"left","values":[0,1,2,3],"format":"~g","title":null}}},
   "layer":[
    {"mark":{"type":"errorbar","color":"#0072BD","opacity":0.75,"thickness":1,"ticks":{"size":9}},"encoding":{"yError":{"field":"e"}}},
    {"mark":{"type":"line","color":"#0072BD","strokeWidth":1,"strokeDash":[6,4]}},
    {"mark":{"type":"circle","color":"#0072BD","size":36,"opacity":1}}
   ]},
  {"transform":[{"filter":"datum.k=='2h'"}],
   "encoding":{"x":{"field":"t","type":"quantitative","scale":{"domain":[0.84,2.5],"nice":false,"zero":false},"axis":{"orient":"top","values":[1,1.5,2,2.5],"labels":false,"domain":false,"title":null}},
               "y":{"field":"v","type":"quantitative","scale":{"domain":[0,0.4],"nice":false},"axis":{"orient":"right","values":[0,0.1,0.2,0.3,0.4],"format":"~g","title":"h(m)","titleX":77,"titleY":146,"titleAngle":270,"titleBaseline":"middle","titleAlign":"center","titleFontStyle":"italic"}}},
   "layer":[
    {"mark":{"type":"errorbar","color":"#D95319","opacity":0.75,"thickness":1,"ticks":{"size":9}},"encoding":{"yError":{"field":"e"}}},
    {"mark":{"type":"line","color":"#D95319","strokeWidth":1,"strokeDash":[6,4]}},
    {"mark":{"type":"circle","color":"#D95319","size":36,"opacity":1}}
   ]},
  {"encoding":{"x":{"field":"t","type":"quantitative","scale":{"domain":[0.84,2.5],"nice":false,"zero":false},"axis":null},
               "y":{"field":"v","type":"quantitative","scale":{"domain":[0,3],"nice":false},"axis":null}},
   "layer":[
    {"data":{"values":[{}]},"mark":{"type":"rule","color":"#1a1a1a","strokeWidth":2.5},"encoding":{"x":{"datum":0.84},"x2":{"datum":2.5},"y":{"datum":1}}},
    {"transform":[{"filter":"datum.k=='2R'"}],"mark":{"type":"circle","color":"#ff0000","size":80,"opacity":1}},
    {"transform":[{"filter":"datum.k=='2T'"}],"mark":{"type":"text","align":"right"},"encoding":{"text":{"field":"lab","type":"nominal"}}}
   ]}
 ]},
{"width":307,"height":292,"resolve":{"scale":{"y":"independent"},"axis":{"x":"independent","y":"independent"}},
 "layer":[
  {"transform":[{"filter":"datum.k=='3P'"}],
   "encoding":{"x":{"field":"t","type":"quantitative","scale":{"domain":[0.84,2.5],"nice":false,"zero":false},"axis":{"orient":"bottom","values":[1,1.5,2,2.5],"format":"~g","title":null}},
               "y":{"field":"v","type":"quantitative","scale":{"domain":[0,2.742],"nice":false},"axis":{"orient":"left","values":[0,1,2],"format":"~g","title":"P/Pₗ","titleX":-60,"titleY":122,"titleAngle":270,"titleBaseline":"middle","titleAlign":"center","titleFontStyle":"italic"}}},
   "layer":[
    {"mark":{"type":"errorbar","color":"#0072BD","opacity":0.75,"thickness":1,"ticks":{"size":9}},"encoding":{"yError":{"field":"e"}}},
    {"mark":{"type":"line","color":"#0072BD","strokeWidth":1,"strokeDash":[6,4]}},
    {"mark":{"type":"circle","color":"#0072BD","size":36,"opacity":1}}
   ]},
  {"transform":[{"filter":"datum.k=='3h'"}],
   "encoding":{"x":{"field":"t","type":"quantitative","scale":{"domain":[0.84,2.5],"nice":false,"zero":false},"axis":{"orient":"top","values":[1,1.5,2,2.5],"labels":false,"domain":false,"title":null}},
               "y":{"field":"v","type":"quantitative","scale":{"domain":[0,0.4],"nice":false},"axis":{"orient":"right","values":[0,0.1,0.2,0.3,0.4],"format":"~g","title":null}}},
   "layer":[
    {"mark":{"type":"errorbar","color":"#D95319","opacity":0.75,"thickness":1,"ticks":{"size":9}},"encoding":{"yError":{"field":"e"}}},
    {"mark":{"type":"line","color":"#D95319","strokeWidth":1,"strokeDash":[6,4]}},
    {"mark":{"type":"circle","color":"#D95319","size":36,"opacity":1}}
   ]},
  {"encoding":{"x":{"field":"t","type":"quantitative","scale":{"domain":[0.84,2.5],"nice":false,"zero":false},"axis":null},
               "y":{"field":"v","type":"quantitative","scale":{"domain":[0,2.742],"nice":false},"axis":null}},
   "layer":[
    {"data":{"values":[{}]},"mark":{"type":"rule","color":"#1a1a1a","strokeWidth":2.5},"encoding":{"x":{"datum":0.84},"x2":{"datum":2.5},"y":{"datum":1}}},
    {"transform":[{"filter":"datum.k=='3R'"}],"mark":{"type":"circle","color":"#ff0000","size":80,"opacity":1}},
    {"transform":[{"filter":"datum.k=='3T'"}],"mark":{"type":"text","align":"right"},"encoding":{"text":{"field":"lab","type":"nominal"}}}
   ]}
 ]},
{"width":307,"height":292,"resolve":{"scale":{"y":"independent"},"axis":{"x":"independent","y":"independent"}},
 "layer":[
  {"transform":[{"filter":"datum.k=='4P'"}],
   "encoding":{"x":{"field":"t","type":"quantitative","scale":{"domain":[0.84,2.5],"nice":false,"zero":false},"axis":{"orient":"bottom","values":[1,1.5,2,2.5],"format":"~g","title":null}},
               "y":{"field":"v","type":"quantitative","scale":{"domain":[0,4.21],"nice":false},"axis":{"orient":"left","values":[0,1,2,3,4],"format":"~g","title":null}}},
   "layer":[
    {"mark":{"type":"errorbar","color":"#0072BD","opacity":0.75,"thickness":1,"ticks":{"size":9}},"encoding":{"yError":{"field":"e"}}},
    {"mark":{"type":"line","color":"#0072BD","strokeWidth":1,"strokeDash":[6,4]}},
    {"mark":{"type":"circle","color":"#0072BD","size":36,"opacity":1}}
   ]},
  {"transform":[{"filter":"datum.k=='4h'"}],
   "encoding":{"x":{"field":"t","type":"quantitative","scale":{"domain":[0.84,2.5],"nice":false,"zero":false},"axis":{"orient":"top","values":[1,1.5,2,2.5],"labels":false,"domain":false,"title":null}},
               "y":{"field":"v","type":"quantitative","scale":{"domain":[0,0.4],"nice":false},"axis":{"orient":"right","values":[0,0.1,0.2,0.3,0.4],"format":"~g","title":"h (m)","titleX":77,"titleY":146,"titleAngle":270,"titleBaseline":"middle","titleAlign":"center"}}},
   "layer":[
    {"mark":{"type":"errorbar","color":"#D95319","opacity":0.75,"thickness":1,"ticks":{"size":9}},"encoding":{"yError":{"field":"e"}}},
    {"mark":{"type":"line","color":"#D95319","strokeWidth":1,"strokeDash":[6,4]}},
    {"mark":{"type":"circle","color":"#D95319","size":36,"opacity":1}}
   ]},
  {"encoding":{"x":{"field":"t","type":"quantitative","scale":{"domain":[0.84,2.5],"nice":false,"zero":false},"axis":null},
               "y":{"field":"v","type":"quantitative","scale":{"domain":[0,4.21],"nice":false},"axis":null}},
   "layer":[
    {"data":{"values":[{}]},"mark":{"type":"rule","color":"#1a1a1a","strokeWidth":2.5},"encoding":{"x":{"datum":0.84},"x2":{"datum":2.5},"y":{"datum":1}}},
    {"transform":[{"filter":"datum.k=='4R'"}],"mark":{"type":"circle","color":"#ff0000","size":80,"opacity":1}},
    {"transform":[{"filter":"datum.k=='4T'"}],"mark":{"type":"text","align":"right"},"encoding":{"text":{"field":"lab","type":"nominal"}}}
   ]}
 ]},
{"width":307,"height":292,"resolve":{"scale":{"y":"independent"},"axis":{"x":"independent","y":"independent"}},
 "layer":[
  {"transform":[{"filter":"datum.k=='5P'"}],
   "encoding":{"x":{"field":"t","type":"quantitative","scale":{"domain":[0.84,2.5],"nice":false,"zero":false},"axis":{"orient":"bottom","values":[1,1.5,2,2.5],"format":"~g","title":"t (s)","titleY":68,"titleBaseline":"middle"}},
               "y":{"field":"v","type":"quantitative","scale":{"domain":[0,1.5],"nice":false},"axis":{"orient":"left","values":[0,0.5,1,1.5],"format":"~g","title":"P/Pₗ","titleX":-60,"titleY":122,"titleAngle":270,"titleBaseline":"middle","titleAlign":"center","titleFontStyle":"italic"}}},
   "layer":[
    {"mark":{"type":"errorbar","color":"#0072BD","opacity":0.75,"thickness":1,"ticks":{"size":9}},"encoding":{"yError":{"field":"e"}}},
    {"mark":{"type":"line","color":"#0072BD","strokeWidth":1,"strokeDash":[6,4]}},
    {"mark":{"type":"circle","color":"#0072BD","size":36,"opacity":1}}
   ]},
  {"transform":[{"filter":"datum.k=='5h'"}],
   "encoding":{"x":{"field":"t","type":"quantitative","scale":{"domain":[0.84,2.5],"nice":false,"zero":false},"axis":{"orient":"top","values":[1,1.5,2,2.5],"labels":false,"domain":false,"title":null}},
               "y":{"field":"v","type":"quantitative","scale":{"domain":[0,0.4],"nice":false},"axis":{"orient":"right","values":[0,0.1,0.2,0.3,0.4],"format":"~g","title":"h (m)","titleX":77,"titleY":146,"titleAngle":270,"titleBaseline":"middle","titleAlign":"center"}}},
   "layer":[
    {"mark":{"type":"errorbar","color":"#D95319","opacity":0.75,"thickness":1,"ticks":{"size":9}},"encoding":{"yError":{"field":"e"}}},
    {"mark":{"type":"line","color":"#D95319","strokeWidth":1,"strokeDash":[6,4]}},
    {"mark":{"type":"circle","color":"#D95319","size":36,"opacity":1}}
   ]},
  {"encoding":{"x":{"field":"t","type":"quantitative","scale":{"domain":[0.84,2.5],"nice":false,"zero":false},"axis":null},
               "y":{"field":"v","type":"quantitative","scale":{"domain":[0,1.5],"nice":false},"axis":null}},
   "layer":[
    {"data":{"values":[{}]},"mark":{"type":"rule","color":"#1a1a1a","strokeWidth":2.5},"encoding":{"x":{"datum":0.84},"x2":{"datum":2.5},"y":{"datum":1}}},
    {"transform":[{"filter":"datum.k=='5R'"}],"mark":{"type":"circle","color":"#ff0000","size":80,"opacity":1}},
    {"transform":[{"filter":"datum.k=='5T'"}],"mark":{"type":"text","align":"right"},"encoding":{"text":{"field":"lab","type":"nominal"}}}
   ]}
 ]},
{"width":307,"height":292,"resolve":{"scale":{"y":"independent"},"axis":{"x":"independent","y":"independent"}},
 "layer":[
  {"transform":[{"filter":"datum.k=='6P'"}],
   "encoding":{"x":{"field":"t","type":"quantitative","scale":{"domain":[0.84,2.5],"nice":false,"zero":false},"axis":{"orient":"bottom","values":[1,1.5,2,2.5],"format":"~g","title":"t (s)","titleY":68,"titleBaseline":"middle"}},
               "y":{"field":"v","type":"quantitative","scale":{"domain":[0,1.377],"nice":false},"axis":{"orient":"left","values":[0,0.5,1],"format":"~g","title":null}}},
   "layer":[
    {"mark":{"type":"errorbar","color":"#0072BD","opacity":0.75,"thickness":1,"ticks":{"size":9}},"encoding":{"yError":{"field":"e"}}},
    {"mark":{"type":"line","color":"#0072BD","strokeWidth":1,"strokeDash":[6,4]}},
    {"mark":{"type":"circle","color":"#0072BD","size":36,"opacity":1}}
   ]},
  {"transform":[{"filter":"datum.k=='6h'"}],
   "encoding":{"x":{"field":"t","type":"quantitative","scale":{"domain":[0.84,2.5],"nice":false,"zero":false},"axis":{"orient":"top","values":[1,1.5,2,2.5],"labels":false,"domain":false,"title":null}},
               "y":{"field":"v","type":"quantitative","scale":{"domain":[0,0.4],"nice":false},"axis":{"orient":"right","values":[0,0.1,0.2,0.3,0.4],"format":"~g","title":"h (m)","titleX":77,"titleY":146,"titleAngle":270,"titleBaseline":"middle","titleAlign":"center"}}},
   "layer":[
    {"mark":{"type":"errorbar","color":"#D95319","opacity":0.75,"thickness":1,"ticks":{"size":9}},"encoding":{"yError":{"field":"e"}}},
    {"mark":{"type":"line","color":"#D95319","strokeWidth":1,"strokeDash":[6,4]}},
    {"mark":{"type":"circle","color":"#D95319","size":36,"opacity":1}}
   ]},
  {"encoding":{"x":{"field":"t","type":"quantitative","scale":{"domain":[0.84,2.5],"nice":false,"zero":false},"axis":null},
               "y":{"field":"v","type":"quantitative","scale":{"domain":[0,1.377],"nice":false},"axis":null}},
   "layer":[
    {"data":{"values":[{}]},"mark":{"type":"rule","color":"#1a1a1a","strokeWidth":2.5},"encoding":{"x":{"datum":0.84},"x2":{"datum":2.5},"y":{"datum":1}}},
    {"transform":[{"filter":"datum.k=='6R'"}],"mark":{"type":"circle","color":"#ff0000","size":80,"opacity":1}},
    {"transform":[{"filter":"datum.k=='6T'"}],"mark":{"type":"text","align":"right"},"encoding":{"text":{"field":"lab","type":"nominal"}}}
   ]}
 ]}
]
}
